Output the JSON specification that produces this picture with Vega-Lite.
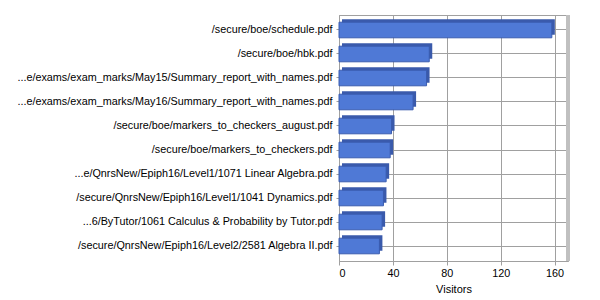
{
  "$schema": "https://vega.github.io/schema/vega-lite/v6.json",
  "autosize": "none",
  "width": 229,
  "height": 246,
  "padding": {"left": 339, "top": 15, "right": 32, "bottom": 39},
  "background": "white",
  "config": {
    "font": "Liberation Sans",
    "view": {"stroke": "#a0a0a0", "strokeWidth": 1},
    "axis": {"labelFont": "Liberation Sans", "titleFont": "Liberation Sans", "labelFontSize": 10.8, "titleFontSize": 11, "labelColor": "#000", "titleColor": "#000", "titleFontWeight": "normal", "gridColor": "#a0a0a0", "gridOpacity": 1, "domainColor": "#a0a0a0", "tickColor": "#a0a0a0"}
  },
  "data": {
    "values": [
      {"page": "/secure/boe/schedule.pdf", "visitors": 158},
      {"page": "/secure/boe/hbk.pdf", "visitors": 67},
      {"page": "...e/exams/exam_marks/May15/Summary_report_with_names.pdf", "visitors": 65},
      {"page": "...e/exams/exam_marks/May16/Summary_report_with_names.pdf", "visitors": 55},
      {"page": "/secure/boe/markers_to_checkers_august.pdf", "visitors": 39},
      {"page": "/secure/boe/markers_to_checkers.pdf", "visitors": 38},
      {"page": "...e/QnrsNew/Epiph16/Level1/1071 Linear Algebra.pdf", "visitors": 35},
      {"page": "/secure/QnrsNew/Epiph16/Level1/1041 Dynamics.pdf", "visitors": 33},
      {"page": "...6/ByTutor/1061 Calculus & Probability by Tutor.pdf", "visitors": 32},
      {"page": "/secure/QnrsNew/Epiph16/Level2/2581 Algebra II.pdf", "visitors": 30}
    ]
  },
  "layer": [
    {
      "mark": {"type": "bar", "color": "#3a5aab", "xOffset": 3, "yOffset": -3},
      "encoding": {
        "y": {"field": "page", "type": "nominal", "sort": null,
          "scale": {"paddingInner": 0.35, "paddingOuter": 0.3},
          "axis": {"title": null, "labelLimit": 400, "tickSize": 3, "labelPadding": 4, "domain": true, "grid": true, "bandPosition": 0.5}},
        "x": {"field": "visitors", "type": "quantitative",
          "scale": {"domain": [0, 170], "nice": false},
          "axis": {"title": "Visitors", "values": [0, 40, 80, 120, 160], "tickSize": 4, "labelPadding": 2, "titlePadding": 6, "grid": true}}
      }
    },
    {
      "mark": {"type": "bar", "color": "#4f79d6", "stroke": "#3a5cb0", "strokeWidth": 1},
      "encoding": {
        "y": {"field": "page", "type": "nominal", "sort": null},
        "x": {"field": "visitors", "type": "quantitative"}
      }
    },
    {
      "mark": {"type": "rule", "color": "#c0c0c0", "strokeWidth": 4},
      "encoding": {"x": {"datum": 170}}
    }
  ]
}
